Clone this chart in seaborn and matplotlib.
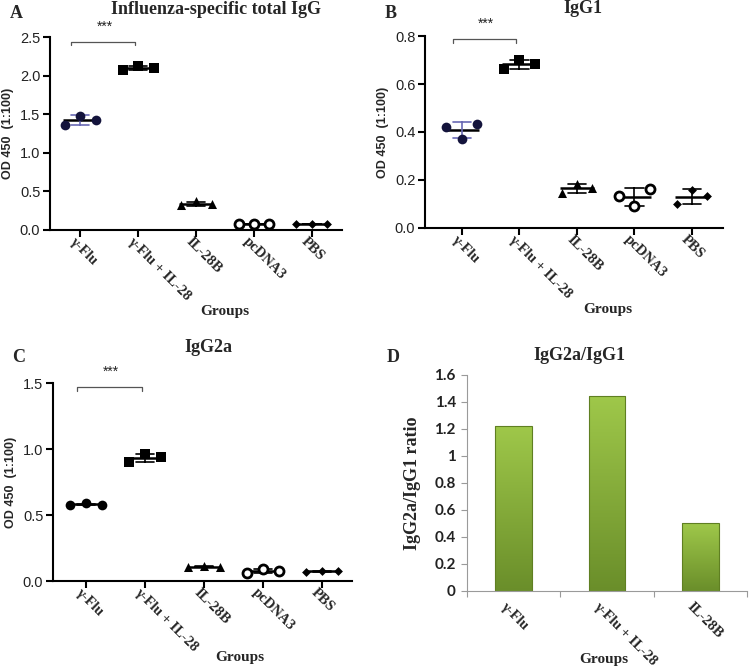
"""
Influenza IgG / IgG1 / IgG2a panels (A-C) and IgG2a/IgG1 ratio bars (D)
"""

import numpy as np
import pandas as pd
import matplotlib
matplotlib.use("Agg")
import matplotlib.pyplot as plt
import matplotlib.transforms as mtransforms
from matplotlib.colors import LinearSegmentedColormap
import seaborn as sns

sns.set_theme(style="ticks")
plt.rcParams['font.family'] = ['Liberation Serif', 'DejaVu Serif']

# --- data -------------------------------------------------------------
groups = ['γ-Flu', 'γ-Flu + IL-28', 'IL-28B', 'pcDNA3', 'PBS']

# A: influenza-specific total IgG, OD450 (1:100), 3 mice per group
A_flu = [1.36, 1.48, 1.43]
A_flu_il28 = [2.07, 2.12, 2.10]
A_il28b = [0.32, 0.37, 0.335]
A_pcdna3 = [0.075, 0.08, 0.078]
A_pbs = [0.078, 0.08, 0.078]

# B: IgG1
B_flu = [0.42, 0.37, 0.433]
B_flu_il28 = [0.662, 0.70, 0.682]
B_il28b = [0.146, 0.184, 0.166]
B_pcdna3 = [0.135, 0.09, 0.162]
B_pbs = [0.101, 0.16, 0.132]

# C: IgG2a
C_flu = [0.578, 0.588, 0.578]
C_flu_il28 = [0.90, 0.963, 0.937]
C_il28b = [0.106, 0.115, 0.108]
C_pcdna3 = [0.058, 0.091, 0.076]
C_pbs = [0.072, 0.078, 0.073]

# D: IgG2a/IgG1 ratio
ratio_groups = ['γ-Flu', 'γ-Flu + IL-28', 'IL-28B']
ratio_values = [1.223, 1.445, 0.50]


def to_long(series):
    rows = []
    for g, vals in zip(groups, series):
        for i, v in enumerate(vals):
            rows.append({'group': g, 'rep': f'r{i}', 'value': v})
    return pd.DataFrame(rows)


df_a = to_long([A_flu, A_flu_il28, A_il28b, A_pcdna3, A_pbs])
df_b = to_long([B_flu, B_flu_il28, B_il28b, B_pcdna3, B_pbs])
df_c = to_long([C_flu, C_flu_il28, C_il28b, C_pcdna3, C_pbs])
df_d = pd.DataFrame({'group': ratio_groups, 'ratio': ratio_values})

# marker style per group (GraphPad look)
markers = {
    'γ-Flu': ('o', 'black', 'black', 0.0, 7.0),
    'γ-Flu + IL-28': ('s', 'black', 'black', 0.0, 6.5),
    'IL-28B': ('^', 'black', 'black', 0.0, 6.5),
    'pcDNA3': ('o', 'white', 'black', 2.0, 6.5),
    'PBS': ('D', 'black', 'black', 0.0, 4.5),
}

SANS = ['Liberation Sans', 'DejaVu Sans']
SERIF = ['Liberation Serif', 'DejaVu Serif']


def scatter_panel(ax, df, ylim, yticks, title, title_xy, xlim, groups_xy,
                  bracket, flu_color='black', flu_err='black'):
    for g in groups:
        sub = df[df['group'] == g]
        errc = flu_err if g == groups[0] else 'black'
        sns.pointplot(data=sub, x='group', y='value', order=groups,
                      errorbar='sd', capsize=0.32, markers='_',
                      linestyles='none', color='black', markersize=24,
                      markeredgewidth=1.8,
                      err_kws={'linewidth': 1.2, 'color': errc}, ax=ax)
    for g in groups:
        sub = df[df['group'] == g]
        m, fc, ec, lw, sz = markers[g]
        if g == groups[0]:
            fc = ec = flu_color
        sns.stripplot(data=sub, x='group', y='value', order=groups,
                      hue='rep', hue_order=['r0', 'r1', 'r2'],
                      palette=[fc] * 3, dodge=True, jitter=False,
                      marker=m, size=sz, edgecolor=ec, linewidth=lw,
                      legend=False, zorder=4, ax=ax)

    ax.set_xlim(*xlim)
    ax.set_ylim(*ylim)
    ax.set_yticks(yticks)
    ax.set_yticklabels([f'{t:.1f}' for t in yticks], family=SANS,
                       fontsize=10.5, color='#222222')
    sns.despine(ax=ax)
    for s in ['left', 'bottom']:
        ax.spines[s].set_linewidth(1.5)
        ax.spines[s].set_color('black')
    ax.tick_params(axis='both', width=1.5, length=5, color='black', pad=2)

    ax.set_xticks(range(len(groups)))
    ax.set_xticklabels(groups, rotation=-45, ha='left', va='center',
                       rotation_mode='anchor', fontsize=10.5,
                       fontweight='bold', family=SERIF)
    off = mtransforms.ScaledTranslation(-6 / 72, 0, ax.figure.dpi_scale_trans)
    for lab in ax.get_xticklabels():
        lab.set_transform(lab.get_transform() + off)

    ax.set_ylabel('OD 450  (1:100)', family=SANS, fontweight='bold',
                  fontsize=9, labelpad=4)
    ax.set_xlabel('Groups', family=SERIF, fontweight='bold', fontsize=11)
    ax.xaxis.set_label_coords(*groups_xy)
    ax.text(title_xy[0], title_xy[1], title, transform=ax.transAxes,
            ha='center', va='center', fontsize=13, fontweight='bold',
            family=SERIF)

    # significance bracket between the first two groups
    y_top, y_tick, y_star = bracket
    ax.plot([-0.15, -0.15, 0.95, 0.95], [y_tick, y_top, y_top, y_tick],
            color='#555555', lw=0.9, clip_on=False)
    ax.text(0.42, y_star, '***', ha='center', va='center', fontsize=10,
            family=SANS, color='#222222')


fig = plt.figure(figsize=(7.49, 6.68), dpi=100)
fig.patch.set_facecolor('white')

ax_a = fig.add_axes([0.0668, 0.6557, 0.3899, 0.2889])
ax_b = fig.add_axes([0.5674, 0.6587, 0.3979, 0.2874])
ax_c = fig.add_axes([0.0708, 0.1302, 0.3992, 0.2964])
ax_d = fig.add_axes([0.6235, 0.1153, 0.3738, 0.3234])

scatter_panel(ax_a, df_a, (0, 2.5), [0, 0.5, 1.0, 1.5, 2.0, 2.5],
              'Influenza-specific total IgG', (0.57, 1.14), (-0.52, 4.52),
              (0.60, -0.39), (2.44, 2.39, 2.63),
              flu_color='#14143c', flu_err='#6a6ab4')
scatter_panel(ax_b, df_b, (0, 0.8), [0, 0.2, 0.4, 0.6, 0.8],
              'IgG1', (0.53, 1.145), (-0.64, 4.54),
              (0.614, -0.39), (0.786, 0.77, 0.85),
              flu_color='#14143c', flu_err='#6a6ab4')
scatter_panel(ax_c, df_c, (0, 1.5), [0, 0.5, 1.0, 1.5],
              'IgG2a', (0.52, 1.177), (-0.56, 4.51),
              (0.625, -0.354), (1.47, 1.44, 1.585))

# --- D: bar chart with green gradient ----------------------------------
sns.barplot(data=df_d, x='group', y='ratio', order=ratio_groups,
            width=0.39, color='#8cb83a', edgecolor='#5f7f22', linewidth=0.8,
            ax=ax_d)
grad = LinearSegmentedColormap.from_list('grn', ['#6a8e2a', '#9fc84a'])
for p in ax_d.patches:
    bb = p.get_bbox()
    img = ax_d.imshow(np.linspace(0, 1, 256).reshape(-1, 1), cmap=grad,
                      origin='lower', aspect='auto',
                      extent=[bb.x0, bb.x1, bb.y0, bb.y1], zorder=1)
    img.set_clip_path(p)
    p.set_facecolor('none')
    p.set_zorder(2)

ax_d.set_xlim(-0.5, 2.5)
ax_d.set_ylim(0, 1.6)
d_ticks = [0, 0.2, 0.4, 0.6, 0.8, 1.0, 1.2, 1.4, 1.6]
ax_d.set_yticks(d_ticks)
ax_d.set_yticklabels(['0' if t == 0 else ('1' if t == 1 else f'{t:.1f}')
                      for t in d_ticks],
                     family=['Lato', 'DejaVu Sans'], fontweight='bold',
                     fontsize=11, color='#222222')
sns.despine(ax=ax_d)
for s in ['left', 'bottom']:
    ax_d.spines[s].set_linewidth(0.8)
    ax_d.spines[s].set_color('#9a9a9a')
ax_d.tick_params(axis='y', length=4, width=0.8, color='#9a9a9a', pad=4)
ax_d.set_xticks(range(len(ratio_groups)))
ax_d.set_xticks([-0.5, 0.5, 1.5, 2.5], minor=True)
ax_d.tick_params(axis='x', which='major', length=0, pad=8)
ax_d.tick_params(axis='x', which='minor', length=4, width=0.8,
                 color='#9a9a9a')
ax_d.set_xticklabels(ratio_groups, rotation=-45, ha='left', va='center',
                     rotation_mode='anchor', fontsize=10.5,
                     fontweight='bold', family=SERIF)
off = mtransforms.ScaledTranslation(-8 / 72, -2 / 72, fig.dpi_scale_trans)
for lab in ax_d.get_xticklabels():
    lab.set_transform(lab.get_transform() + off)
ax_d.set_ylabel('IgG2a/IgG1 ratio', family=SERIF, fontweight='bold',
                fontsize=13, labelpad=10)
ax_d.set_xlabel('Groups', family=SERIF, fontweight='bold', fontsize=11)
ax_d.xaxis.set_label_coords(0.49, -0.287)
ax_d.text(0.40, 1.09, 'IgG2a/IgG1', transform=ax_d.transAxes, ha='center',
          va='center', fontsize=13, fontweight='bold', family=SERIF)

# panel letters
for letter, (px, py) in zip('ABCD', [(10, 13), (385, 13), (12, 358), (387, 357)]):
    fig.text(px / 749, 1 - py / 668, letter, ha='left', va='center',
             fontsize=13, fontweight='bold', family=SERIF)

fig.savefig('out.png', dpi=100, facecolor='white')
